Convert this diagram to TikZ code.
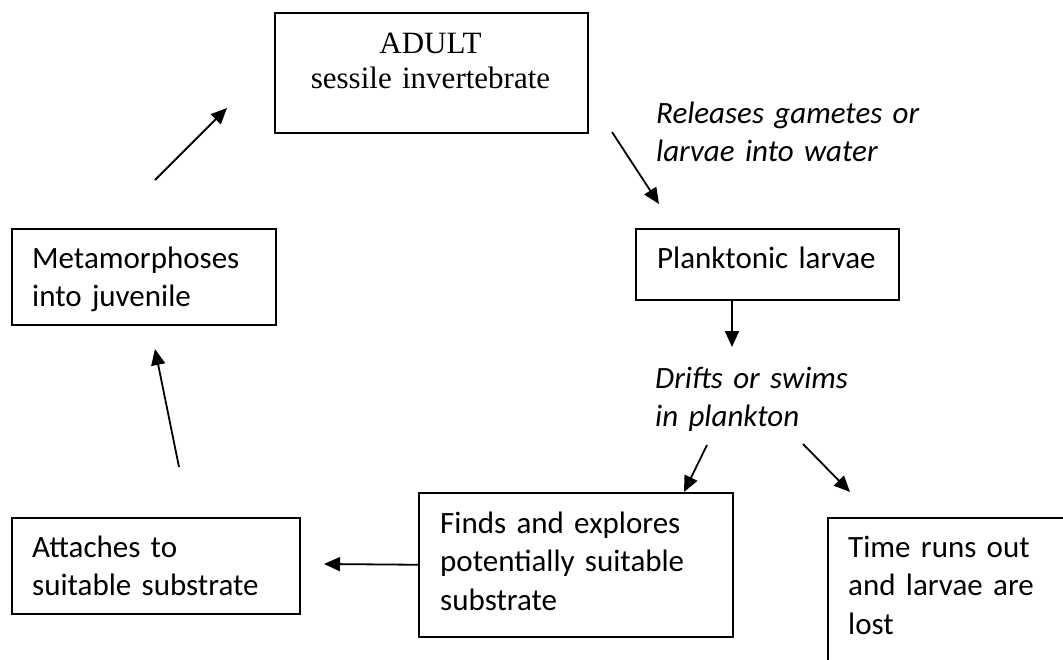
\documentclass[tikz,border=0pt]{standalone}
\usepackage{fontspec}
\setmainfont{Carlito}
\newfontfamily\adultfont{Liberation Serif}
\usetikzlibrary{arrows.meta,calc}
\begin{document}
\begin{tikzpicture}[x=1pt,y=-1pt,
  box/.style={draw=black, line width=1.5pt, rectangle, inner sep=0pt, anchor=north west},
  txt/.style={inner sep=0pt, anchor=base west, align=left, text width=300pt,
              font=\fontsize{31}{38.5}\selectfont},
  itxt/.style={txt, font=\fontsize{31}{38.5}\selectfont\itshape},
  arr/.style={line width=1.8pt, -{Triangle[length=16pt,width=14pt]}}]
\useasboundingbox (0,0) rectangle (1063,659);
\clip (0,0) rectangle (1063,659);

% boxes
\node[box, minimum width=313pt, minimum height=120pt] (adult) at (274,12) {};
\node[box, minimum width=263pt, minimum height=71pt]  (plank) at (635,228) {};
\node[box, minimum width=264pt, minimum height=96pt]  (meta)  at (11,228) {};
\node[box, minimum width=288pt, minimum height=96pt]  (attach) at (11,517) {};
\node[box, minimum width=314pt, minimum height=144pt] (finds) at (418,492) {};
\node[box, minimum width=300pt, minimum height=200pt] (time)  at (827,517) {};

% texts
\node[inner sep=0pt, anchor=base, align=center, text width=313pt,
      font=\adultfont\fontsize{31}{35}\selectfont] (adult-t) at (430.5,53)
      {ADULT\\sessile invertebrate};
\node[txt] (plank-t) at (657,268) {Planktonic larvae};
\node[txt] (meta-t) at (32,268) {Metamorphoses\\into juvenile};
\node[txt] (attach-t) at (32,557) {Attaches to\\suitable substrate};
\node[txt] (finds-t) at (440,533) {Finds and explores\\potentially suitable\\substrate};
\node[txt, text width=210pt] (time-t) at (848,557) {Time runs out\\and larvae are\\lost};
\node[itxt] (rel) at (656,123) {Releases gametes or\\larvae into water};
\node[itxt] (drift) at (655,388) {Drifts or swims\\in plankton};

% connector end points
\coordinate (m2a-s) at (155,180);
\coordinate (m2a-e) at (227,108);
\coordinate (a2p-s) at (612,132);
\coordinate (a2p-e) at (659,204);
\coordinate (p2d-s) at ($(plank.south west)+(97,0)$);
\coordinate (p2d-e) at (732,347);
\coordinate (d2f-s) at (707,445);
\coordinate (d2f-e) at ($(finds.north west)+(266,0)$);
\coordinate (d2t-s) at (803,444);
\coordinate (d2t-e) at (850,492);
\coordinate (f2a-e) at (324,564);
\coordinate (a2m-s) at (179,467);
\coordinate (a2m-e) at (155,349);

% connectors
\draw[arr] (m2a-s) -- (m2a-e);
\draw[arr] (a2p-s) -- (a2p-e);
\draw[arr] (p2d-s) -- (p2d-e);
\draw[arr] (d2f-s) -- (d2f-e);
\draw[arr] (d2t-s) -- (d2t-e);
\draw[arr] (finds.west) -- (f2a-e);
\draw[arr] (a2m-s) -- (a2m-e);
\end{tikzpicture}
\end{document}
